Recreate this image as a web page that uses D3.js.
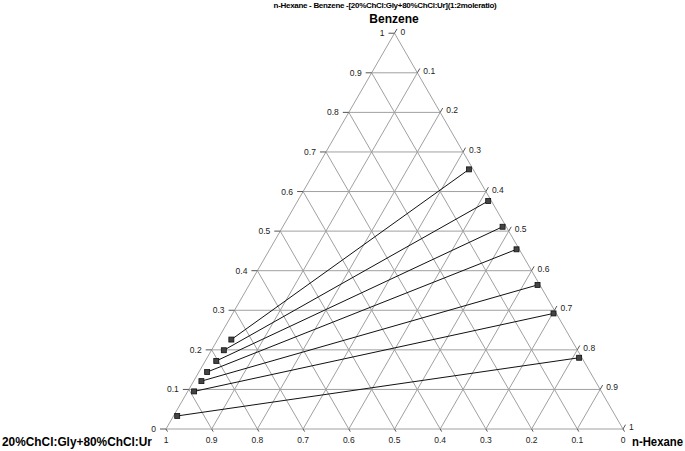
<!DOCTYPE html>
<html>
<head>
<meta charset="utf-8">
<script src="https://cdn.jsdelivr.net/npm/d3@7"></script>
<style>
  body { margin: 0; background: #fff; }
  svg { display: block; font-family: "Liberation Sans", Arial, sans-serif; }
</style>
</head>
<body>
<svg id="chart" width="685" height="451"></svg>
<script>
// tie lines: mass fractions
var raffBenzene = [0.656, 0.576, 0.511, 0.454, 0.364, 0.292, 0.180];
var raffHexane  = [0.335, 0.417, 0.481, 0.540, 0.631, 0.702, 0.814];
var extBenzene  = [0.226, 0.199, 0.172, 0.144, 0.121, 0.095, 0.033];
var extHexane   = [0.030, 0.027, 0.024, 0.018, 0.017, 0.014, 0.008];
var ticks = [0, 0.1, 0.2, 0.3, 0.4, 0.5, 0.6, 0.7, 0.8, 0.9, 1];
var gridVals = [0.1, 0.2, 0.3, 0.4, 0.5, 0.6, 0.7, 0.8, 0.9];

var title = 'n-Hexane - Benzene -[20%ChCl:Gly+80%ChCl:Ur](1:2moleratio)';
var topLabel = 'Benzene', leftLabel = '20%ChCl:Gly+80%ChCl:Ur', rightLabel = 'n-Hexane';

var svg = d3.select('#chart');

var x0 = 166, side = 457, baseY = 429;
var h = side * Math.sqrt(3) / 2;

// along-base and height scales
var sx = d3.scaleLinear().domain([0, 1]).range([x0, x0 + side]);
var sy = d3.scaleLinear().domain([0, 1]).range([baseY, baseY - h]);

// benzene (b), hexane (n) -> pixel
function pt(b, n) {
  return [sx(n + b / 2), sy(b)];
}

var gridColor = '#a0a0a0';
var g = svg.append('g');

// grid lines, three families
gridVals.forEach(function(v) {
  // constant benzene
  var a = pt(v, 0), c = pt(v, 1 - v);
  g.append('line').attr('x1', a[0]).attr('y1', a[1]).attr('x2', c[0]).attr('y2', c[1]);
  // constant hexane
  a = pt(0, v); c = pt(1 - v, v);
  g.append('line').attr('x1', a[0]).attr('y1', a[1]).attr('x2', c[0]).attr('y2', c[1]);
  // constant DES
  a = pt(0, 1 - v); c = pt(1 - v, 0);
  g.append('line').attr('x1', a[0]).attr('y1', a[1]).attr('x2', c[0]).attr('y2', c[1]);
});
g.selectAll('line').attr('stroke', gridColor).attr('stroke-width', 1);

var tri = [pt(0, 0), pt(0, 1), pt(1, 0)];
svg.append('path')
  .attr('d', d3.line()(tri) + 'Z')
  .attr('fill', 'none')
  .attr('stroke', gridColor)
  .attr('stroke-width', 1);

// ticks and tick labels
var tk = svg.append('g').attr('stroke', '#555').attr('stroke-width', 1);
var tl = svg.append('g').attr('font-size', 8.5).attr('fill', '#222');
var c60 = 0.5, s60 = Math.sqrt(3) / 2;

ticks.forEach(function(v) {
  var fmt = v === 0 || v === 1 ? String(v) : v.toFixed(1);
  // left axis: benzene
  var p = pt(v, 0);
  tk.append('line').attr('x1', p[0]).attr('y1', p[1]).attr('x2', p[0] - 6).attr('y2', p[1]);
  tl.append('text').attr('x', p[0] - 10).attr('y', p[1] + 3).attr('text-anchor', 'end').text(fmt);
  // right axis: hexane
  p = pt(1 - v, v);
  tk.append('line').attr('x1', p[0]).attr('y1', p[1])
    .attr('x2', p[0] + 5 * c60).attr('y2', p[1] - 5 * s60);
  tl.append('text').attr('x', p[0] + 6).attr('y', p[1] + (v === 0 ? 2 : 1)).text(fmt);
  // bottom axis: DES
  p = pt(0, 1 - v);
  tk.append('line').attr('x1', p[0]).attr('y1', p[1])
    .attr('x2', p[0] + 3 * c60).attr('y2', p[1] + 3 * s60);
  tl.append('text').attr('x', p[0]).attr('y', p[1] + 14).attr('text-anchor', 'middle').text(fmt);
});

// tie lines
var ties = raffBenzene.map(function(b, i) {
  return [pt(extBenzene[i], extHexane[i]), pt(b, raffHexane[i])];
});
svg.append('g').selectAll('line').data(ties).join('line')
  .attr('x1', function(d) { return d[0][0]; })
  .attr('y1', function(d) { return d[0][1]; })
  .attr('x2', function(d) { return d[1][0]; })
  .attr('y2', function(d) { return d[1][1]; })
  .attr('stroke', '#111')
  .attr('stroke-width', 1);

var pts = [];
ties.forEach(function(d) { pts.push(d[0], d[1]); });
svg.append('g').selectAll('rect').data(pts).join('rect')
  .attr('x', function(d) { return d[0] - 2.5; })
  .attr('y', function(d) { return d[1] - 2.5; })
  .attr('width', 5).attr('height', 5)
  .attr('fill', '#444')
  .attr('stroke', '#111')
  .attr('stroke-width', 0.8);

// titles
svg.append('text').attr('x', 385).attr('y', 8).attr('text-anchor', 'middle')
  .attr('font-size', 8).attr('font-weight', 'bold').attr('letter-spacing', -0.3)
  .text(title);
svg.append('text').attr('x', 394).attr('y', 23).attr('text-anchor', 'middle')
  .attr('font-size', 12).attr('font-weight', 'bold').text(topLabel);
svg.append('text').attr('x', 2).attr('y', 446)
  .attr('font-size', 12).attr('font-weight', 'bold')
  .attr('textLength', 150).attr('lengthAdjust', 'spacingAndGlyphs').text(leftLabel);
svg.append('text').attr('x', 632).attr('y', 446)
  .attr('font-size', 12).attr('font-weight', 'bold')
  .attr('textLength', 51).attr('lengthAdjust', 'spacingAndGlyphs').text(rightLabel);
</script>
</body>
</html>
